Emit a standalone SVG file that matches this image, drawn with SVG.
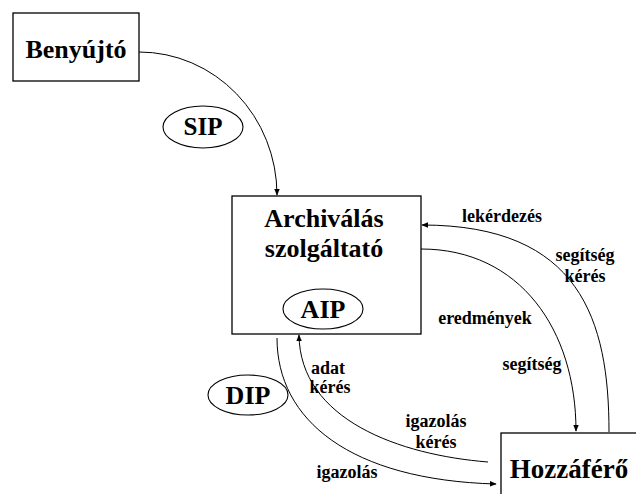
<svg xmlns="http://www.w3.org/2000/svg" width="636" height="494" viewBox="0 0 636 494">
  <style>
    .box { fill: #fff; stroke: #000; stroke-width: 1.3; }
    .oval { fill: #fff; stroke: #000; stroke-width: 1.1; }
    .big { font-family: "Liberation Serif", "Times New Roman", serif; font-weight: bold; font-size: 26px; text-anchor: middle; fill: #000; }
    .lbl { font-family: "Liberation Serif", "Times New Roman", serif; font-weight: bold; font-size: 18px; text-anchor: middle; fill: #000; }
    .flow { fill: none; stroke: #000; stroke-width: 1; marker-end: url(#head); }
  </style>
  <defs>
    <marker id="head" viewBox="0 0 10 10" refX="9" refY="5" markerWidth="7" markerHeight="7" markerUnits="userSpaceOnUse" orient="auto">
      <path d="M0,1 L10,5 L0,9 Z" fill="#000"/>
    </marker>
  </defs>

  <rect width="636" height="494" fill="#fff"/>

  <g id="connectors">
    <path class="flow" d="M139,52 A138,143 0 0 1 277,195"/>
    <path class="flow" d="M609,432 C609,320 580,225 422,225"/>
    <path class="flow" d="M421,249 C520,249 576,330 576,431"/>
    <path class="flow" d="M488,462 C400,455 300,420 299,335"/>
    <path class="flow" d="M277,338 C277,420 350,480 496,484"/>
  </g>

  <g id="benyujto">
    <rect class="box" x="13" y="13" width="126" height="68"/>
    <text class="big" x="76" y="58">Benyújtó</text>
  </g>

  <g id="sip">
    <ellipse class="oval" cx="203" cy="127" rx="40" ry="21"/>
    <text class="big" x="203" y="135" style="font-size:25px">SIP</text>
  </g>

  <g id="archivalas">
    <rect class="box" x="232" y="196" width="189" height="138"/>
    <text class="big" x="324" y="227">Archiválás</text>
    <text class="big" x="324" y="257">szolgáltató</text>
  </g>

  <g id="aip">
    <ellipse class="oval" cx="323" cy="309" rx="40" ry="20"/>
    <text class="big" x="323" y="318">AIP</text>
  </g>

  <g id="dip">
    <ellipse class="oval" cx="248" cy="395" rx="40" ry="20"/>
    <text class="big" x="248" y="404">DIP</text>
  </g>

  <g id="hozzafero">
    <rect class="box" x="501" y="433" width="145" height="70"/>
    <text class="big" x="569" y="478" style="font-size:27px">Hozzáférő</text>
  </g>

  <g id="labels">
    <text class="lbl" x="502" y="222">lekérdezés</text>
    <text class="lbl" x="585" y="261">segítség</text>
    <text class="lbl" x="585" y="282">kérés</text>
    <text class="lbl" x="485" y="324">eredmények</text>
    <text class="lbl" x="532" y="370">segítség</text>
    <text class="lbl" x="328" y="374">adat</text>
    <text class="lbl" x="330" y="393">kérés</text>
    <text class="lbl" x="436" y="427">igazolás</text>
    <text class="lbl" x="436" y="448">kérés</text>
    <text class="lbl" x="347" y="478">igazolás</text>
  </g>
</svg>
